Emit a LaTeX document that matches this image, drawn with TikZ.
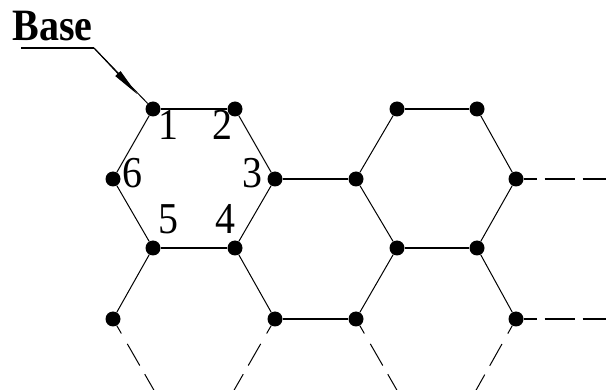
\documentclass[tikz,border=0pt]{standalone}
\usepackage{fontspec}
\setmainfont{Liberation Serif}
\usetikzlibrary{arrows.meta,calc}
\begin{document}
\begin{tikzpicture}[x=1pt,y=-1pt,
  dot/.style={circle,fill=black,inner sep=0pt,minimum size=15pt},
  thin line/.style={line width=1pt},
  bond/.style={line width=2.2pt},
  lowdash/.style={line width=1pt,dash pattern=on 9pt off 12pt on 25pt off 10pt on 40pt},
  taildash/.style={line width=2.2pt,dash pattern=on 13pt off 8pt on 30pt off 8pt on 40pt},
  num/.style={inner sep=0pt,font=\fontsize{42}{42}\selectfont}]
\useasboundingbox (0,0) rectangle (606,390);
% vertices
\node[dot] (a1) at (153,109) {};
\node[dot] (a2) at (235,109) {};
\node[dot] (a3) at (275,179) {};
\node[dot] (a4) at (235,248) {};
\node[dot] (a5) at (153,248) {};
\node[dot] (a6) at (113,179) {};
\node[dot] (b1) at (397,109) {};
\node[dot] (b2) at (477,109) {};
\node[dot] (b3) at (516,179) {};
\node[dot] (b4) at (477,248) {};
\node[dot] (b5) at (397,248) {};
\node[dot] (b6) at (356,179) {};
\node[dot] (c6) at (113,319) {};
\node[dot] (c3) at (275,319) {};
\node[dot] (d6) at (356,319) {};
\node[dot] (d3) at (516,319) {};
\coordinate (e1) at (155,392);
\coordinate (e2) at (233,392);
\coordinate (e3) at (398,392);
\coordinate (e4) at (475,392);
\coordinate (r1) at (606,179);
\coordinate (r2) at (606,319);
% hexagon 1
\draw[bond] (a1) -- (a2);
\draw[thin line] (a2) -- (a3) -- (a4);
\draw[bond] (a4) -- (a5);
\draw[thin line] (a5) -- (a6) -- (a1);
% hexagon 2
\draw[bond] (b1) -- (b2);
\draw[thin line] (b2) -- (b3) -- (b4);
\draw[bond] (b4) -- (b5);
\draw[thin line] (b5) -- (b6) -- (b1);
% connectors
\draw[bond] (a3) -- (b6);
\draw[taildash] (b3) -- (r1);
\draw[thin line] (a5) -- (c6);
\draw[thin line] (a4) -- (c3);
\draw[thin line] (b5) -- (d6);
\draw[thin line] (b4) -- (d3);
\draw[bond] (c3) -- (d6);
\draw[taildash] (d3) -- (r2);
\draw[lowdash] (c6) -- (e1);
\draw[lowdash] (c3) -- (e2);
\draw[lowdash] (d6) -- (e3);
\draw[lowdash] (d3) -- (e4);
% labels
\node[num] (n1) at (168,125) {\scalebox{0.95}[1.05]{1}};
\node[num] (n2) at (222,125) {\scalebox{0.95}[1.05]{2}};
\node[num] (n3) at (252,173) {\scalebox{0.95}[1.05]{3}};
\node[num] (n4) at (225,219) {\scalebox{0.95}[1.05]{4}};
\node[num] (n5) at (168,219) {\scalebox{0.95}[1.05]{5}};
\node[num] (n6) at (132,173) {\scalebox{0.95}[1.05]{6}};
% Base label
\node[inner sep=0pt,font=\fontsize{40}{40}\selectfont\bfseries] (base) at (52.5,26) {\scalebox{1}[1.12]{Base}};
\coordinate (bl) at (21,48);
\coordinate (br) at (94,48);
\coordinate (tip) at (137,94);
\draw[line width=2.2pt] (bl) -- (br);
\draw[line width=1pt] (br) -- (a1);
\draw[line width=1pt,-{Triangle[length=28pt,width=7pt]}] (br) -- (tip);
\end{tikzpicture}
\end{document}
